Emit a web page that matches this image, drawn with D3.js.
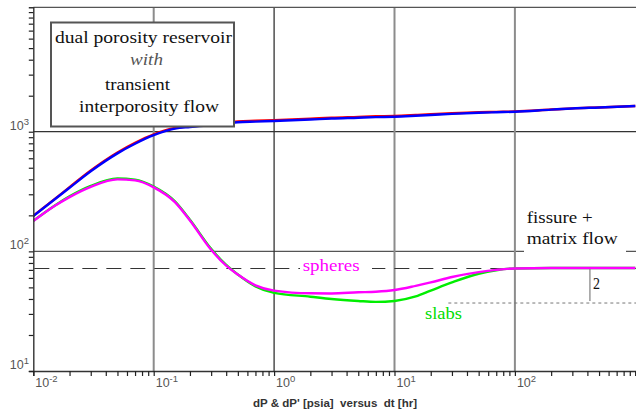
<!DOCTYPE html>
<html>
<head>
<meta charset="utf-8">
<script src="https://cdn.jsdelivr.net/npm/d3@7"></script>
<style>
  html, body { margin: 0; padding: 0; background: #fff; }
  svg { display: block; }
  .serif { font-family: "Liberation Serif", "Tinos", "Times New Roman", Times, "Nimbus Roman", "FreeSerif", "Noto Serif", "DejaVu Serif", serif; }
  .sans { font-family: "Liberation Sans", Arial, sans-serif; }
</style>
</head>
<body>
<svg id="chart" width="636" height="414"></svg>
<script>
// Elapsed time dt [hr]
const timeHr = [0.01, 0.015, 0.02, 0.03, 0.05, 0.07, 0.1, 0.15, 0.2, 0.3, 0.4, 0.5, 0.7, 1, 2, 3, 5, 7, 10, 15, 20, 30, 50, 70, 100, 200, 300, 500, 1000];

// Pressure change dP [psia]
const pressSpheres = [197, 271, 340, 467, 659, 793, 935, 1060, 1095, 1135, 1165, 1200, 1215, 1230, 1265, 1290, 1310, 1325, 1335, 1360, 1380, 1410, 1440, 1455, 1468, 1530, 1565, 1595, 1640];
const pressSlabs   = [198, 273, 344, 474, 670, 807, 950, 1075, 1112, 1152, 1182, 1218, 1234, 1250, 1285, 1310, 1330, 1345, 1355, 1380, 1400, 1428, 1455, 1465, 1475, 1532, 1566, 1596, 1640];

// Pressure derivative dP' [psia]
const derivSpheres = [179, 239, 284, 346, 400, 392, 343, 258, 181, 103, 76, 64, 52, 47, 44.6, 44.5, 45.5, 46, 47.5, 51.5, 55, 61, 67, 70, 72, 72.5, 72.5, 72.5, 72.5];
const derivSlabs   = [180, 241, 288, 352, 406, 398, 348, 262, 184, 105, 77, 64, 51, 45, 41.8, 40, 38.5, 37.8, 38.5, 42, 47, 55, 65, 69.5, 72, 72.5, 72.5, 72.5, 72.5];

// Reference levels
const fissureMatrixLevel = 72;
const slabLevel = 37;
const slabLevelStart = 28;
const ratioMarkTime = 420;

const xDecades = [-2, -1, 0, 1, 2];
const yDecades = [1, 2, 3];

const svg = d3.select("#chart");
const W = 636, H = 414;
const pLeft = 33.3, pRight = 635.3, pTop = 7.3, pBottom = 371;

const x = d3.scaleLog().domain([0.01, 1000]).range([pLeft, pRight]);
const y = d3.scaleLog().domain([10, Math.pow(10, 4.04)]).range([pBottom, pTop]);

// Clip for curves
svg.append("clipPath").attr("id", "plotClip")
  .append("rect").attr("x", pLeft).attr("y", pTop).attr("width", W - pLeft).attr("height", pBottom - pTop);

// Horizontal decade grid lines
[[1000, "#333", 1.2], [100, "#555", 1.4]].forEach(([v, c, w]) => {
  svg.append("line")
    .attr("x1", pLeft).attr("x2", W)
    .attr("y1", y(v)).attr("y2", y(v))
    .attr("stroke", c).attr("stroke-width", w);
});

// Vertical decade grid lines
xDecades.slice(1).forEach(d => {
  const v = Math.pow(10, d);
  const dark = d === 0;
  svg.append("line")
    .attr("x1", x(v)).attr("x2", x(v))
    .attr("y1", pTop).attr("y2", pBottom)
    .attr("stroke", dark ? "#333" : "#8c8c8c")
    .attr("stroke-width", dark ? 1.3 : 2);
});

// Fissure + matrix flow level (dashed)
svg.append("line")
  .attr("x1", x(0.0102)).attr("x2", W)
  .attr("y1", y(fissureMatrixLevel)).attr("y2", y(fissureMatrixLevel))
  .attr("stroke", "#333").attr("stroke-width", 1.1)
  .attr("stroke-dasharray", "15,9");

// Slab level (dotted)
svg.append("line")
  .attr("x1", x(slabLevelStart)).attr("x2", W)
  .attr("y1", y(slabLevel)).attr("y2", y(slabLevel))
  .attr("stroke", "#777").attr("stroke-width", 1)
  .attr("stroke-dasharray", "3,3");

// Factor-of-two marker
svg.append("line")
  .attr("x1", x(ratioMarkTime)).attr("x2", x(ratioMarkTime))
  .attr("y1", y(fissureMatrixLevel)).attr("y2", y(slabLevel) - 2)
  .attr("stroke", "#666").attr("stroke-width", 1);

// White backgrounds behind annotations
svg.append("rect").attr("x", 300).attr("y", 256).attr("width", 72).attr("height", 20).attr("fill", "#fff");
svg.append("rect").attr("x", 524).attr("y", 206).attr("width", 102).attr("height", 46).attr("fill", "#fff");

// Curves
const line = series => d3.line()
  .x((d, i) => x(timeHr[i]))
  .y(d => y(d))
  .curve(d3.curveMonotoneX)(series);

const curves = svg.append("g").attr("clip-path", "url(#plotClip)");
[[pressSlabs, "#ff0000"], [pressSpheres, "#0000ff"], [derivSlabs, "#00ee00"], [derivSpheres, "#ff00ff"]]
  .forEach(([s, c]) => {
    curves.append("path")
      .attr("d", line(s))
      .attr("fill", "none")
      .attr("stroke", c)
      .attr("stroke-width", 2.4)
      .attr("stroke-linejoin", "round");
  });

// Annotation labels
function label(txt, x0, yb, len, color, italic) {
  return svg.append("text")
    .attr("class", "serif")
    .attr("x", x0).attr("y", yb)
    .attr("font-size", 17)
    .attr("font-style", italic ? "italic" : "normal")
    .attr("fill", color)
    .attr("textLength", len).attr("lengthAdjust", "spacingAndGlyphs")
    .text(txt);
}

label("spheres", 302.7, 270.5, 57, "#ff00ff");
label("slabs", 425, 319, 37, "#00dd00");
label("fissure +", 526.7, 223, 66, "#111");
label("matrix flow", 526.7, 244, 91, "#111");
label("2", 593, 289, 7, "#111");

// Title box
svg.append("rect")
  .attr("x", 51).attr("y", 22.5).attr("width", 183).attr("height", 104)
  .attr("fill", "#fff").attr("stroke", "#555").attr("stroke-width", 2);
label("dual porosity reservoir", 55, 42.7, 177, "#111");
label("with", 130, 65, 33, "#555", true);
label("transient", 105, 90, 65, "#111");
label("interporosity flow", 79, 111.7, 140, "#111");

// Axes frame
svg.append("line").attr("x1", pLeft).attr("x2", W).attr("y1", pTop).attr("y2", pTop)
  .attr("stroke", "#555").attr("stroke-width", 1.3);

const minorTicks = (lo, hi) => {
  const out = [];
  for (let d = lo; d < hi; d++) for (let m = 1; m < 10; m++) out.push(m * Math.pow(10, d));
  out.push(Math.pow(10, hi));
  return out;
};

const yTicks = minorTicks(1, 4);
const xTicks = minorTicks(-2, 3);

const yAxis = svg.append("g").attr("transform", `translate(${pLeft},0)`)
  .call(d3.axisLeft(y).tickValues(yTicks).tickSize(4.5).tickFormat(""));
const xAxis = svg.append("g").attr("transform", `translate(0,${pBottom})`)
  .call(d3.axisBottom(x).tickValues(xTicks).tickSize(5).tickFormat(""));
[yAxis, xAxis].forEach(g => {
  g.select(".domain").attr("stroke", "#333").attr("stroke-width", 1.4);
  g.selectAll(".tick line").attr("stroke", "#222").attr("stroke-width", 1.2);
});

// Decade labels with superscript exponents
function decadeLabel(px, py, exp, anchor) {
  const t = svg.append("text")
    .attr("class", "sans")
    .attr("x", px).attr("y", py)
    .attr("font-size", 12.5)
    .attr("fill", "#555").attr("text-anchor", anchor);
  t.append("tspan").text("10");
  t.append("tspan").attr("dy", -5).attr("font-size", 9.5).text(String(exp));
}
yDecades.forEach(d => decadeLabel(29, y(Math.pow(10, d)) - 2, d, "end"));
xDecades.forEach(d => decadeLabel(x(Math.pow(10, d)) + 2, 387, d, "start"));

// Axis caption
svg.append("text")
  .attr("class", "sans")
  .attr("x", 253).attr("y", 407)
  .attr("font-size", 10).attr("font-weight", "bold")
  .attr("fill", "#333")
  .style("white-space", "pre")
  .attr("textLength", 164).attr("lengthAdjust", "spacingAndGlyphs")
  .text("dP & dP' [psia]  versus  dt [hr]");
</script>
</body>
</html>
